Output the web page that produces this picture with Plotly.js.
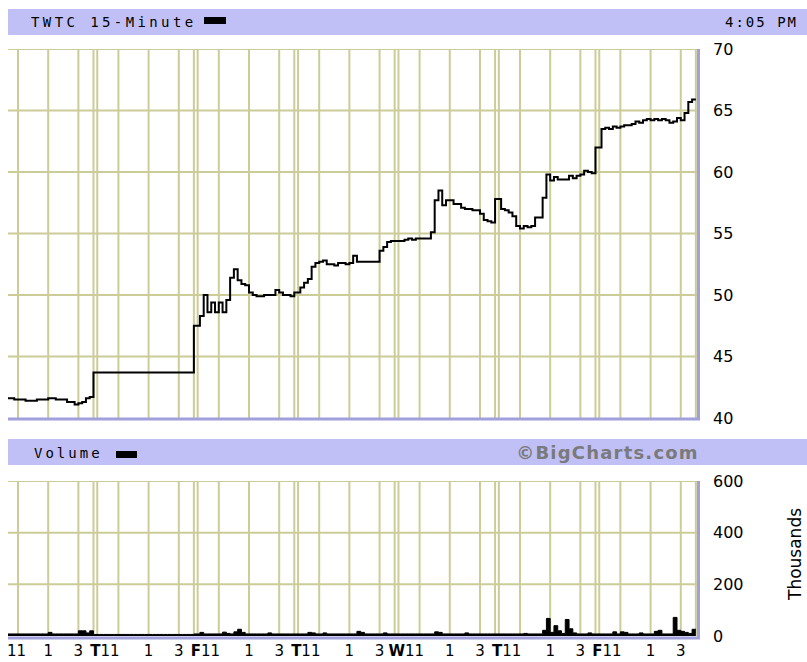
<!DOCTYPE html>
<html><head><meta charset="utf-8">
<script src="https://cdn.plot.ly/plotly-3.0.1.min.js"></script>
<style>html,body{margin:0;padding:0;background:#fff;} #chart{width:807px;height:662px;}</style>
</head><body><div id="chart"></div>
<script>
// ---------- data ----------
const chartTitle = 'TWTC 15-Minute';
const timeLabel = '4:05 PM';
const volumeTitle = 'Volume';
const sourceLabel = '\u00A9BigCharts.com';
const unitLabel = 'Thousands';
const dayLetters = ['', 'T', 'F', 'T', 'W', 'T', 'F'];
const hourLabels = ['11', '1', '3'];
const priceTicks = [40, 45, 50, 55, 60, 65, 70];
const volumeTicks = [0, 200, 400, 600];

// 15-minute closing prices, one array per trading day (first day partly shown)
const priceDay0 = [41.7, 41.6, 41.6, 41.5, 41.5, 41.5, 41.4, 41.4, 41.4, 41.5, 41.5, 41.5,
  41.6, 41.6, 41.5, 41.5, 41.5, 41.3, 41.3, 41.1, 41.2, 41.3, 41.6, 41.7];
const priceDay1 = [43.7, 43.7, 43.7, 43.7, 43.7, 43.7, 43.7, 43.7, 43.7, 43.7, 43.7, 43.7, 43.7,
  43.7, 43.7, 43.7, 43.7, 43.7, 43.7, 43.7, 43.7, 43.7, 43.7, 43.7, 43.7, 43.7];
const priceDay2 = [47.5, 48.3, 50.0, 48.6, 49.4, 48.6, 49.4, 48.6, 49.6, 51.4, 52.1, 51.2, 50.9,
  50.8, 50.2, 50.0, 49.9, 49.9, 50.0, 50.0, 50.0, 50.4, 50.2, 50.0, 50.0, 49.9];
const priceDay3 = [50.2, 50.6, 51.0, 51.3, 52.3, 52.6, 52.7, 52.8, 52.5, 52.5, 52.4, 52.6, 52.6,
  52.5, 52.6, 53.2, 52.7, 52.7, 52.7, 52.7, 52.7, 52.7, 53.6, 53.9, 54.3, 54.4];
const priceDay4 = [54.4, 54.4, 54.5, 54.6, 54.5, 54.6, 54.6, 54.6, 54.6, 55.1, 57.7, 58.5, 57.3,
  57.7, 57.7, 57.4, 57.4, 57.1, 57.0, 57.0, 56.9, 56.9, 56.6, 56.1, 56.0, 55.9];
const priceDay5 = [57.8, 57.0, 56.9, 56.7, 56.4, 55.6, 55.4, 55.6, 55.5, 55.6, 56.3, 56.3, 57.9,
  59.8, 59.3, 59.6, 59.4, 59.4, 59.4, 59.7, 59.5, 59.7, 59.8, 60.1, 60.0, 59.9];
const priceDay6 = [62.0, 63.5, 63.6, 63.5, 63.7, 63.6, 63.7, 63.8, 63.8, 63.9, 64.1, 64.0, 64.2,
  64.3, 64.2, 64.3, 64.2, 64.3, 64.2, 64.0, 64.1, 64.4, 64.2, 64.8, 65.7, 65.9];

// 15-minute volume, thousands of shares
const volumeDay0 = [8, 8, 8, 8, 8, 8, 8, 8, 8, 8, 8, 8, 14, 8, 8, 8, 8, 8, 8, 8, 20, 20, 12, 20];
const volumeDay1 = [6, 6, 6, 6, 6, 6, 6, 6, 6, 6, 6, 6, 6, 6, 6, 6, 6, 6, 6, 6, 6, 6, 6, 6, 6, 6];
const volumeDay2 = [8, 14, 8, 8, 8, 8, 8, 15, 10, 8, 16, 26, 14, 8, 8, 8, 8, 8, 8, 12, 8, 8, 8, 8, 8, 8];
const volumeDay3 = [8, 8, 8, 14, 12, 8, 8, 12, 8, 8, 8, 8, 8, 8, 8, 8, 18, 14, 8, 8, 8, 8, 8, 12, 8, 8];
const volumeDay4 = [8, 8, 8, 8, 8, 8, 8, 8, 8, 8, 16, 14, 8, 8, 8, 8, 8, 8, 12, 8, 8, 8, 8, 8, 8, 8];
const volumeDay5 = [8, 8, 8, 8, 8, 8, 8, 10, 8, 8, 8, 8, 22, 68, 14, 40, 20, 10, 64, 28, 12, 8, 8, 8, 12, 8];
const volumeDay6 = [8, 8, 8, 8, 16, 8, 16, 14, 8, 8, 8, 12, 8, 8, 8, 18, 22, 8, 8, 8, 72, 22, 18, 14, 10, 26];

// ---------- build ----------
const DAY_SLOTS = 26.6;   // 26 fifteen-minute bars + session gap
const BARS = 26;
const priceDays = [priceDay0, priceDay1, priceDay2, priceDay3, priceDay4, priceDay5, priceDay6];
const volumeDays = [volumeDay0, volumeDay1, volumeDay2, volumeDay3, volumeDay4, volumeDay5, volumeDay6];

function series(days) {
  const xs = [], ys = [];
  days.forEach((vals, d) => {
    const first = BARS - vals.length;
    vals.forEach((v, i) => { xs.push(d * DAY_SLOTS + first + i + 1); ys.push(v); });
  });
  return { xs, ys };
}
const P = series(priceDays);
const V = series(volumeDays);

const tickvals = [], ticktext = [];
dayLetters.forEach((L, d) => {
  const base = d * DAY_SLOTS;
  if (d === 0) { tickvals.push(base + 5.6); ticktext.push(hourLabels[0]); }
  else { tickvals.push(base + 2.45); ticktext.push('<b>' + L + '</b>' + hourLabels[0]); }
  tickvals.push(base + 14); ticktext.push(hourLabels[1]);
  tickvals.push(base + 22); ticktext.push(hourLabels[2]);
});

const GRID = '#cccc99';
const LAV = '#c0c0f6';
const BORDER = '#a0a0dc';
const shapes = [];
const vlines = [];
dayLetters.forEach((L, d) => {
  [6, 14, 22, 26].forEach(o => vlines.push(d * DAY_SLOTS + o));
  if (d > 0) vlines.push(d * DAY_SLOTS + 0.4);
});
vlines.forEach(x => {
  shapes.push({type: 'line', layer: 'below', xref: 'x', yref: 'y', x0: x, x1: x, y0: 40, y1: 70, line: {color: GRID, width: 2}});
  shapes.push({type: 'line', layer: 'below', xref: 'x', yref: 'y2', x0: x, x1: x, y0: 0, y1: 600, line: {color: GRID, width: 2}});
});
priceTicks.slice(1).forEach(v => shapes.push({type: 'line', layer: 'below', xref: 'paper', yref: 'y', x0: 0, x1: 1, y0: v, y1: v, line: {color: GRID, width: 2}}));
volumeTicks.slice(1).forEach(v => shapes.push({type: 'line', layer: 'below', xref: 'paper', yref: 'y2', x0: 0, x1: 1, y0: v, y1: v, line: {color: GRID, width: 2}}));

// pixel helpers for decorations (plot area: x 8..697, y 49..636)
const px = x => (x - 8) / 689;
const py = y => (636 - y) / 587;
// header bars
shapes.push({type: 'rect', xref: 'paper', yref: 'paper', x0: px(8), x1: px(807), y0: py(35), y1: py(9), fillcolor: LAV, line: {width: 0}});
shapes.push({type: 'rect', xref: 'paper', yref: 'paper', x0: px(8), x1: px(807), y0: py(465), y1: py(439), fillcolor: LAV, line: {width: 0}});
// legend swatches
shapes.push({type: 'rect', xref: 'paper', yref: 'paper', x0: px(204), x1: px(226), y0: py(24), y1: py(17), fillcolor: '#000', line: {width: 0}});
shapes.push({type: 'rect', xref: 'paper', yref: 'paper', x0: px(116), x1: px(137), y0: py(458), y1: py(451), fillcolor: '#000', line: {width: 0}});
// borders
shapes.push({type: 'line', xref: 'paper', yref: 'paper', x0: px(698.5), x1: px(698.5), y0: py(49), y1: py(420), line: {color: BORDER, width: 3}});
shapes.push({type: 'line', xref: 'paper', yref: 'paper', x0: px(8), x1: px(700), y0: py(419), y1: py(419), line: {color: BORDER, width: 3}});
shapes.push({type: 'line', xref: 'paper', yref: 'paper', x0: px(698.5), x1: px(698.5), y0: py(481), y1: py(639), line: {color: BORDER, width: 3}});
shapes.push({type: 'line', xref: 'paper', yref: 'paper', x0: px(8), x1: px(700), y0: py(638), y1: py(638), line: {color: BORDER, width: 3}});

const MONO = 'DejaVu Sans Mono';
const SANS = 'DejaVu Sans';
const annotations = [
  {xref: 'paper', yref: 'paper', x: px(29), y: py(22), xanchor: 'left', yanchor: 'middle', align: 'left', showarrow: false,
   text: chartTitle, font: {family: MONO, size: 14, color: '#000'}},
  {xref: 'paper', yref: 'paper', x: px(800), y: py(22), xanchor: 'right', yanchor: 'middle', align: 'right', showarrow: false,
   text: timeLabel, font: {family: MONO, size: 14, color: '#000'}},
  {xref: 'paper', yref: 'paper', x: px(32), y: py(453), xanchor: 'left', yanchor: 'middle', align: 'left', showarrow: false,
   text: volumeTitle, font: {family: MONO, size: 14, color: '#000'}},
  {xref: 'paper', yref: 'paper', x: px(701), y: py(452), xanchor: 'right', yanchor: 'middle', align: 'right', showarrow: false,
   text: '<b>' + sourceLabel + '</b>', font: {family: SANS, size: 18, color: '#7a7a7a'}},
  {xref: 'paper', yref: 'paper', x: px(795), y: py(555), xanchor: 'center', yanchor: 'middle', showarrow: false, textangle: -90,
   text: unitLabel, font: {family: SANS, size: 17, color: '#000'}}
];

const data = [
  {type: 'scatter', mode: 'lines', x: P.xs, y: P.ys, xaxis: 'x', yaxis: 'y',
   line: {color: '#000', width: 2, shape: 'vh'}, hoverinfo: 'skip'},
  {type: 'scatter', mode: 'lines', x: V.xs, y: V.ys, xaxis: 'x', yaxis: 'y2',
   fill: 'tozeroy', fillcolor: '#000', line: {color: '#000', width: 1, shape: 'vh'}, hoverinfo: 'skip'}
];

const layout = {
  width: 807, height: 662,
  margin: {l: 8, r: 110, t: 49, b: 26, pad: 0},
  paper_bgcolor: '#fff', plot_bgcolor: '#fff', showlegend: false,
  font: {family: SANS, color: '#000'},
  xaxis: {range: [3.35, 185.9], anchor: 'y2', tickmode: 'array', tickvals: tickvals, ticktext: ticktext,
    ticks: '', showgrid: false, zeroline: false, showline: false, tickangle: 0, ticklabelstandoff: 4,
    tickfont: {family: SANS, size: 15, color: '#000'}},
  yaxis: {domain: [py(418), 1], range: [40, 70], side: 'right', anchor: 'x', tickmode: 'array', tickvals: priceTicks,
    ticks: '', showgrid: false, zeroline: false, showline: false, ticklabelstandoff: 15,
    tickfont: {family: SANS, size: 16, color: '#000'}},
  yaxis2: {domain: [0, py(481)], range: [0, 600], side: 'right', anchor: 'x', tickmode: 'array', tickvals: volumeTicks,
    ticks: '', showgrid: false, zeroline: false, showline: false, ticklabelstandoff: 15,
    tickfont: {family: SANS, size: 16, color: '#000'}},
  shapes: shapes,
  annotations: annotations
};

Plotly.newPlot('chart', data, layout, {staticPlot: true, displayModeBar: false}).then(gd => {
  gd.querySelectorAll('.annotation-text').forEach(t => {
    const s = t.textContent;
    if (s === chartTitle) t.style.letterSpacing = '3.4px';
    else if (s === timeLabel) t.style.letterSpacing = '2px';
    else if (s === volumeTitle) t.style.letterSpacing = '3px';
    else if (s === sourceLabel) t.style.letterSpacing = '1.2px';
  });
});
</script>
</body></html>
